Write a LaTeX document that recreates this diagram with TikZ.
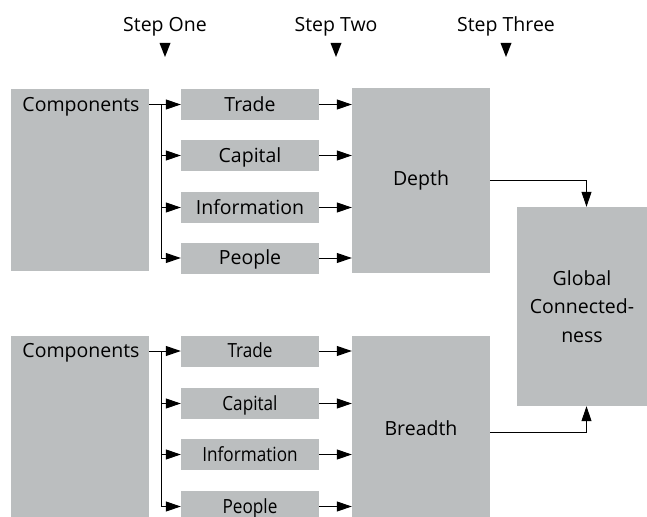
\documentclass[tikz,border=0pt]{standalone}
\usepackage{fontspec}
\setmainfont{Open Sans}
\newfontfamily\condfont[FakeStretch=0.88]{Open Sans}
\usetikzlibrary{arrows.meta}
\definecolor{boxgray}{RGB}{187,190,191}
\tikzset{
  base/.style={fill=boxgray, draw=none, inner sep=0pt, font=\fontsize{19.5}{28.3}\selectfont},
  bigbox/.style={base, minimum width=138pt, minimum height=185pt},
  smallbox/.style={base, minimum width=138pt, minimum height=31pt, text height=13.9pt, text depth=0pt},
  condbox/.style={smallbox, font=\fontsize{19.5}{28.3}\selectfont\condfont},
  plain/.style={inner sep=0pt, font=\fontsize{19.5}{28.3}\selectfont, text height=13.9pt, text depth=0pt},
  conn/.style={line width=1pt, -{Triangle[length=15pt,width=10pt]}},
  lin/.style={line width=1pt},
}
\begin{document}
\begin{tikzpicture}[x=1pt,y=-1pt]
\useasboundingbox (0,0) rectangle (647,516);
\clip (0,0) rectangle (647,516);
% step labels
\node[plain] (s1) at (165,24.5) {Step One};
\node[plain] (s2) at (336,24.5) {Step Two};
\node[plain] (s3) at (506,24.5) {Step Three};
\fill (159.5,43) -- (170.5,43) -- (165,57) -- cycle;
\fill (330.5,43) -- (341.5,43) -- (336,57) -- cycle;
\fill (500.5,43) -- (511.5,43) -- (506,57) -- cycle;
% top group
\node[bigbox, minimum height=182pt] (comp1) at (80,180) {};
\node[plain] (comp1t) at (81,104.5) {Components};
\node[smallbox] (trade1) at (250,104.5) {Trade};
\node[smallbox] (capital1) at (250,155.5) {Capital};
\node[smallbox] (info1) at (250,207.5) {Information};
\node[smallbox] (people1) at (250,258) {People};
\node[bigbox] (depth) at (421,180.5) {Depth};
% bottom group
\node[bigbox] (comp2) at (80,428.5) {};
\node[plain] (comp2t) at (81,351) {Components};
\node[condbox] (trade2) at (250,351) {Trade};
\node[condbox] (capital2) at (250,403.5) {Capital};
\node[condbox] (info2) at (250,454.5) {Information};
\node[condbox] (people2) at (250,506.5) {People};
\node[bigbox] (breadth) at (421,428.5) {Breadth};
% global
\node[base, minimum width=130pt, minimum height=199pt, align=center] (global) at (582,306.5) {Global\\Connected-\\ness};
% branch coordinates
\coordinate (b1) at (161,104);
\coordinate (b2) at (161,351);
% top connectors
\draw[conn] (comp1.east |- trade1.west) -- (trade1.west);
\draw[lin] (b1 |- trade1) -- (b1 |- people1);
\draw[conn] (b1 |- capital1) -- (capital1.west);
\draw[conn] (b1 |- info1) -- (info1.west);
\draw[conn] (b1 |- people1) -- (people1.west);
\draw[conn] (trade1.east) -- (depth.west |- trade1.east);
\draw[conn] (capital1.east) -- (depth.west |- capital1.east);
\draw[conn] (info1.east) -- (depth.west |- info1.east);
\draw[conn] (people1.east) -- (depth.west |- people1.east);
% bottom connectors
\draw[conn] (comp2.east |- trade2.west) -- (trade2.west);
\draw[lin] (b2 |- trade2) -- (b2 |- people2);
\draw[conn] (b2 |- capital2) -- (capital2.west);
\draw[conn] (b2 |- info2) -- (info2.west);
\draw[conn] (b2 |- people2) -- (people2.west);
\draw[conn] (trade2.east) -- (breadth.west |- trade2.east);
\draw[conn] (capital2.east) -- (breadth.west |- capital2.east);
\draw[conn] (info2.east) -- (breadth.west |- info2.east);
\draw[conn] (people2.east) -- (breadth.west |- people2.east);
% to global
\draw[conn] (depth.east) -| ([xshift=4.5pt]global.north);
\draw[conn] ([yshift=-3.5pt]breadth.east) -| ([xshift=4.5pt]global.south);
\end{tikzpicture}
\end{document}
